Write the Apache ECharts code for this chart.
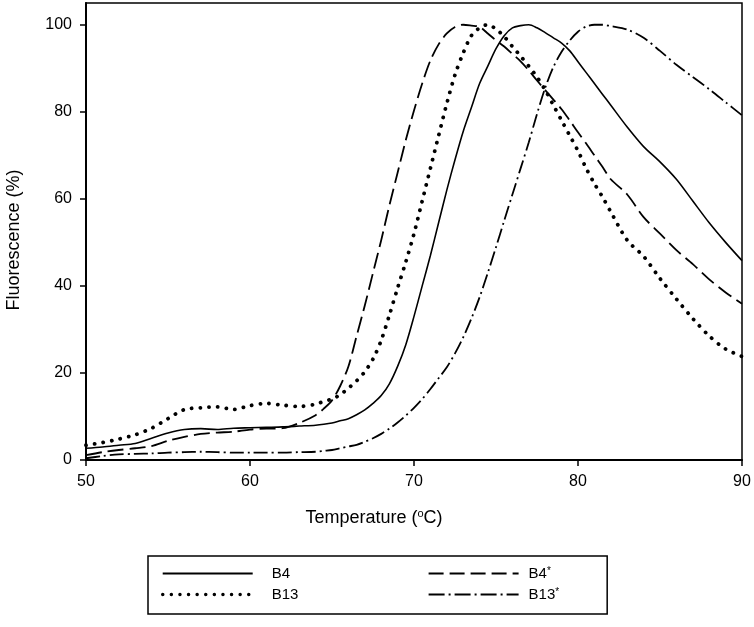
<!DOCTYPE html>
<html>
<head>
<meta charset="utf-8">
<script src="https://cdn.jsdelivr.net/npm/echarts@6/dist/echarts.min.js"></script>
<style>html,body{margin:0;padding:0;background:#fff;}#c{width:754px;height:627px;}</style>
</head>
<body>
<div id="c"></div>
<script>
const temps = [50,51,52,53,54,55,56,57,58,59,60,61,62,63,
  64,64.5,65,65.5,66,66.5,67,67.5,68,68.5,69,69.5,70,70.5,71,71.5,72,72.5,73,73.5,74,74.5,75,75.5,76,76.5,77,77.5,78,78.5,79,79.5,80,80.5,81,81.5,82,
  83,84,85,86,87,88,89,90];
const b4 = [2.7,3.0,3.4,3.8,5.0,6.2,7.0,7.2,7.0,7.3,7.4,7.5,7.6,7.8,
  8.0,8.2,8.5,9.0,9.5,10.4,11.5,13.0,14.8,17.5,21.5,26.5,33,40,47,54.5,62,69,75.5,81,86.5,90.5,94.5,97.5,99.3,99.8,100,99.3,98.2,97,95.8,94,91.5,89,86.5,84,81.5,
  76.5,72,68.5,64.5,59.5,54.5,50,45.8];
const b13 = [3.4,4.0,4.8,5.8,7.3,9.5,11.6,12.0,12.2,11.6,12.5,13.0,12.6,12.3,
  12.8,13.5,14.0,15.0,16.5,18.2,20.3,23.2,27.5,33.3,39.5,45.5,52,59.5,67,74.5,81.9,88.5,93.5,97.5,99.3,100,99,97.3,95,92.8,90.5,88,85,81.5,78,74.5,71,67,63.5,60.4,57,
  50.5,46.8,41.7,37,32.5,28.5,25.5,23.8];
const b4s = [1.1,1.8,2.3,2.7,3.2,4.4,5.3,6.0,6.3,6.5,7.0,7.2,7.3,8.5,
  10.3,11.8,13.7,17.0,21.5,28.5,35.5,43,50.5,58.5,66,73.5,80.3,86.5,91.8,95.5,98,99.5,100,99.8,99.5,98,96.4,95,93.3,91.6,89.5,87.2,85,82.8,80.6,78,75.3,72.7,70,67.3,64.5,
  61,55.8,52,48.2,45,41.5,38.5,35.9];
const b13s = [0.4,0.9,1.3,1.4,1.5,1.7,1.8,1.9,1.8,1.7,1.7,1.7,1.7,1.8,
  1.9,2.1,2.3,2.7,3.1,3.5,4.2,5.0,6.0,7.2,8.6,10.2,12,14,16.3,18.8,21.3,24.5,28.2,32.5,37.4,43,48.9,55,61,67,73,79.5,85.5,90.3,93.8,96.4,98.4,99.6,100,100,99.7,
  98.9,97,94,90.8,88,85.2,82.2,79.2];
const xTicks = [50,60,70,80,90];
const yTicks = [0,20,40,60,80,100];
const seriesNames = ['B4','B13','B4*','B13*'];
const legendOrder = ['B4','B4*','B13','B13*'];

const FF = '"Liberation Sans", Arial, sans-serif';
const pts = v => temps.map((t,i) => [t, v[i]]);
const styles = {
  'B4':  {width:1.6, type:'solid'},
  'B13': {width:3.8, type:[0.1,8.6], cap:'round'},
  'B4*': {width:1.8, type:[16,6]},
  'B13*':{width:1.8, type:[14,4,2,4]}
};
const legendStyles = {
  'B4':  {width:1.8, type:'solid'},
  'B13': {width:3.4, type:[0.1,8.5], cap:'round'},
  'B4*': {width:1.8, type:[15,6]},
  'B13*':{width:1.8, type:[16,4,2,4]}
};
const vals = [b4, b13, b4s, b13s];

const chart = echarts.init(document.getElementById('c'), null, {renderer:'canvas'});
chart.setOption({
  animation:false,
  backgroundColor:'#fff',
  grid:{left:86, right:12, top:3, bottom:167, show:true, borderColor:'#000', borderWidth:1.5},
  xAxis:{type:'value', min:50, max:90, interval:10,
    axisLine:{show:true, lineStyle:{color:'#000', width:2}},
    axisTick:{show:true, length:6, customValues:xTicks, lineStyle:{color:'#000', width:1.5}},
    axisLabel:{color:'#000', fontSize:16, fontFamily:FF, margin:14, customValues:xTicks},
    splitLine:{show:false}},
  yAxis:{type:'value', min:0, max:105, interval:20,
    axisLine:{show:true, lineStyle:{color:'#000', width:2}},
    axisTick:{show:true, length:6, customValues:yTicks, lineStyle:{color:'#000', width:1.5}},
    axisLabel:{color:'#000', fontSize:16, fontFamily:FF, margin:14, customValues:yTicks},
    splitLine:{show:false}},
  legend:{
    left:148, top:556, orient:'horizontal', width:440,
    padding:[10,48,12,13], itemGap:6, itemWidth:90, itemHeight:14,
    borderColor:'#000', borderWidth:1.5, backgroundColor:'#fff',
    itemStyle:{color:'transparent', borderWidth:0, opacity:0},
    data:legendOrder.map(n => ({name:n, lineStyle:Object.assign({color:'#000'}, legendStyles[n])})),
    formatter: n => n.endsWith('*') ? '{a|' + n.slice(0,-1) + '}{s|*}' : '{w|' + n + '}',
    textStyle:{color:'#000', fontSize:15, fontFamily:FF,
      rich:{a:{fontSize:15, lineHeight:14, color:'#000', fontFamily:FF, padding:[0,0,0,5]},
            w:{fontSize:15, lineHeight:14, width:150, color:'#000', fontFamily:FF, padding:[0,0,0,14]},
            s:{fontSize:10, color:'#000', fontFamily:FF, padding:[0,0,4,0]}}}
  },
  graphic:[
    {type:'text', x:374, y:518, style:{
      text:'{a|Temperature (}{s|o}{a|C)}', align:'center', verticalAlign:'middle',
      rich:{a:{fontSize:18, fontFamily:FF, fill:'#000'}, s:{fontSize:11, fontFamily:FF, fill:'#000', padding:[0,0,8,0]}}}},
    {type:'text', x:14, y:240, rotation:Math.PI/2, style:{
      text:'Fluorescence (%)', align:'center', verticalAlign:'middle',
      font:'18px ' + FF, fill:'#000'}}
  ],
  series: seriesNames.map((n,i) => ({
    name:n, type:'line', data:pts(vals[i]), symbol:'none', showSymbol:false, smooth:0.3,
    lineStyle:Object.assign({color:'#000'}, styles[n]),
    itemStyle:{color:'#000'}, emphasis:{disabled:true}, z: 2
  }))
});
</script>
</body>
</html>
